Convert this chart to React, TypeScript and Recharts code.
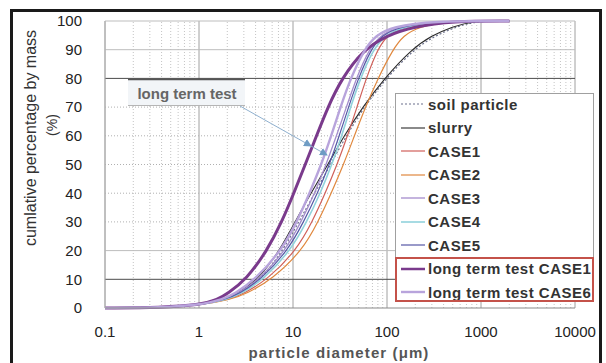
import { LineChart, Line, XAxis, YAxis, ReferenceLine } from "recharts";

// cumulative percentage levels shared by every curve
const PCT = [0, 0.2, 1, 3, 5, 10, 20, 30, 40, 50, 60, 70, 80, 90, 95, 98, 100, 100];

// particle diameter (um) at which each curve reaches the PCT level
const SOIL_D = [0.1, 0.4, 1.0, 1.9, 2.6, 4.6, 7.8, 11.5, 17, 25, 37, 57, 98, 190, 330, 550, 900, 2000];
const SLURRY_D = [0.1, 0.4, 1.0, 1.8, 2.5, 4.3, 7.2, 10.5, 15.5, 23.5, 35, 55, 94, 180, 300, 500, 800, 2000];
const CASE1_D = [0.1, 0.4, 1.0, 2.1, 3.0, 5.4, 10.8, 16, 22, 29.5, 38, 48, 60, 79, 100, 150, 400, 2000];
const CASE2_D = [0.1, 0.4, 1.0, 2.2, 3.2, 6.0, 12.5, 18.5, 25.5, 34.5, 45, 59, 80, 115, 150, 220, 450, 2000];
const CASE3_D = [0.1, 0.4, 1.0, 1.9, 2.6, 4.4, 8.3, 12.2, 17, 22.5, 29, 37, 47, 64, 85, 130, 350, 2000];
const CASE4_D = [0.1, 0.4, 1.0, 2.0, 2.8, 4.9, 9.4, 14, 19.5, 26, 33, 41, 52, 71, 95, 145, 400, 2000];
const CASE5_D = [0.1, 0.4, 1.0, 1.9, 2.7, 4.6, 8.8, 13, 18.2, 24.5, 31, 39, 49.5, 67, 88, 135, 350, 2000];
const LT1_D = [0.1, 0.4, 1.0, 1.6, 2.0, 3.2, 5.3, 7.6, 10.2, 13.5, 17.8, 23.5, 33, 56, 100, 190, 500, 2000];
const LT6_D = [0.1, 0.4, 1.0, 1.8, 2.4, 4.0, 7.5, 11, 15, 20, 25.5, 32, 41, 57, 76, 115, 300, 2000];

const X_TICKS = [0.1, 1, 10, 100, 1000, 10000];
const Y_TICKS = [0, 10, 20, 30, 40, 50, 60, 70, 80, 90, 100];
const MINOR_X = [0.1, 1, 10, 100, 1000].flatMap((b) => [2, 3, 4, 5, 6, 7, 8, 9].map((m) => b * m));

const SERIES = [
  { name: "soil particle", d: SOIL_D, color: "#6b6f8c", width: 1.2, dash: "2 2" },
  { name: "slurry", d: SLURRY_D, color: "#2a2a2a", width: 1.1 },
  { name: "CASE1", d: CASE1_D, color: "#d0605a", width: 1.2 },
  { name: "CASE2", d: CASE2_D, color: "#e0883e", width: 1.2 },
  { name: "CASE3", d: CASE3_D, color: "#a48ccc", width: 1.3 },
  { name: "CASE4", d: CASE4_D, color: "#92d2dc", width: 1.6 },
  { name: "CASE5", d: CASE5_D, color: "#5558a6", width: 1.2 },
  { name: "long term test CASE1", d: LT1_D, color: "#7a3a8c", width: 3 },
  { name: "long term test CASE6", d: LT6_D, color: "#b8a4dc", width: 2.4 },
];

const toPoints = (d: number[]) => d.map((v, i) => ({ d: v, p: PCT[i] }));

const FONT = '"Liberation Sans", Arial, sans-serif';

function hGridStyle(v: number) {
  if (v === 10 || v === 80) return { stroke: "#4a4a4a", dash: undefined };
  if (v === 20 || v === 90 || v === 100) return { stroke: "#bdbdbd", dash: undefined };
  return { stroke: "#b0b0b0", dash: "1 2" };
}

export default function App() {
  return (
    <div style={{ position: "absolute", left: 0, top: 0, width: 606, height: 363, background: "#fff", overflow: "hidden", fontFamily: FONT }}>
      {/* outer frame */}
      <div style={{ position: "absolute", left: 10, top: 9, width: 586, height: 400, border: "3px solid #1a1a1a" }} />

      <div style={{ position: "absolute", left: 0, top: 0 }}>
        <LineChart width={606} height={363} margin={{ top: 21, right: 31, bottom: 25, left: 0 }}>
          <XAxis
            dataKey="d"
            type="number"
            scale="log"
            domain={[0.1, 10000]}
            ticks={X_TICKS}
            allowDataOverflow
            height={30}
            tickSize={0}
            tickMargin={18}
            tickLine={false}
            axisLine={{ stroke: "#8a8a8a" }}
            tick={{ fill: "#222", fontSize: 15, fontFamily: FONT }}
            tickFormatter={(v: number) => String(v)}
          />
          <YAxis
            dataKey="p"
            type="number"
            domain={[0, 100]}
            ticks={Y_TICKS}
            width={105}
            tickSize={0}
            tickMargin={23}
            tickLine={false}
            axisLine={{ stroke: "#b0b0b0" }}
            tick={{ fill: "#222", fontSize: 15, fontFamily: FONT }}
          />
          {MINOR_X.map((v) => (
            <ReferenceLine key={"mx" + v} x={v} stroke="#c4c4c4" strokeDasharray="1 2" />
          ))}
          {X_TICKS.map((v) => (
            <ReferenceLine key={"Mx" + v} x={v} stroke="#a0a0a0" />
          ))}
          {Y_TICKS.slice(1).map((v) => {
            const s = hGridStyle(v);
            return <ReferenceLine key={"y" + v} y={v} stroke={s.stroke} strokeDasharray={s.dash} />;
          })}
          {SERIES.map((s) => (
            <Line
              key={s.name}
              data={toPoints(s.d)}
              dataKey="p"
              name={s.name}
              type="basis"
              stroke={s.color}
              strokeWidth={s.width}
              strokeDasharray={s.dash}
              dot={false}
              isAnimationActive={false}
            />
          ))}
        </LineChart>
      </div>

      {/* axis titles and annotation */}
      <svg width={606} height={363} style={{ position: "absolute", left: 0, top: 0, pointerEvents: "none" }}>
        <text x={30} y={138} transform="rotate(-90 30 138)" textAnchor="middle" dominantBaseline="central" fontSize={16} fill="#333" fontFamily={FONT}>
          cumlative percentage by mass
        </text>
        <text x={52} y={125} transform="rotate(-90 52 125)" textAnchor="middle" dominantBaseline="central" fontSize={14} fill="#333" fontFamily={FONT}>
          (%)
        </text>
        <text x={339} y={352} textAnchor="middle" dominantBaseline="central" fontSize={15} fontWeight="bold" fill="#555" letterSpacing={1.1} fontFamily={FONT}>
          particle diameter (μm)
        </text>

        <rect x={128} y={80} width={117} height={25} fill="#f2f5f8" />
        <line x1={128} y1={79.5} x2={245} y2={79.5} stroke="#555" strokeWidth={1.5} />
        <line x1={128} y1={105.5} x2={245} y2={105.5} stroke="#b5b5b5" strokeWidth={1} />
        <text x={187} y={93} textAnchor="middle" dominantBaseline="central" fontSize={15} fontWeight="bold" fill="#666" fontFamily={FONT}>
          long term test
        </text>
        <defs>
          <marker id="ah" markerWidth="8" markerHeight="8" refX="7" refY="4" orient="auto" markerUnits="userSpaceOnUse">
            <path d="M0,0 L8,4 L0,8 z" fill="#6f9cc4" />
          </marker>
        </defs>
        <line x1={240} y1={106} x2={311} y2={146} stroke="#8fb0cf" strokeWidth={1} markerEnd="url(#ah)" />
        <line x1={311} y1={146} x2={327} y2={155} stroke="#8fb0cf" strokeWidth={1} markerEnd="url(#ah)" />
      </svg>

      {/* legend */}
      <div style={{ position: "absolute", left: 395, top: 93, width: 199, height: 208, border: "1.5px solid #a0a0a0", background: "#fff", boxSizing: "border-box" }}>
        {SERIES.map((s, i) => (
          <div key={s.name} style={{ position: "absolute", left: 4, top: 0 + i * 23.5, height: 20, display: "flex", alignItems: "center", whiteSpace: "nowrap" }}>
            <svg width={26} height={20}>
              <line x1={1} y1={10} x2={25} y2={10} stroke={s.color} strokeWidth={Math.min(s.width, 2.5)} strokeDasharray={s.dash} />
            </svg>
            <span style={{ marginLeft: 2, fontSize: 15, fontWeight: "bold", color: "#333", letterSpacing: 0.5 }}>{s.name}</span>
          </div>
        ))}
        <div style={{ position: "absolute", left: -1.5, top: 163, width: 199, height: 45, border: "2px solid #c4524a", boxSizing: "border-box" }} />
      </div>
    </div>
  );
}
